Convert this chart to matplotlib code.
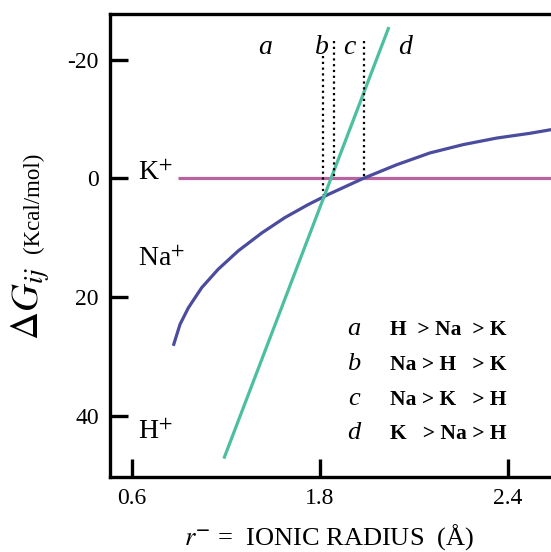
import matplotlib
matplotlib.use("Agg")
import matplotlib.pyplot as plt

plt.rcParams['font.family'] = ['Liberation Serif', 'DejaVu Serif']
plt.rcParams['mathtext.fontset'] = 'stix'

# x positions are on the printed axis, whose ticks are evenly spaced
xtick_pos = [0.6, 1.5, 2.4]
xtick_labels = ['0.6', '1.8', '2.4']
ytick_vals = [-20, 0, 20, 40]
ytick_labels = ['-20', '0', '20', '40']

# K+ reference line
k_x = [0.82, 2.62]
k_y = [0.0, 0.0]

# Na+ curve
na_x = [0.798, 0.830, 0.870, 0.934, 1.013, 1.109, 1.221, 1.332, 1.444, 1.540,
        1.707, 1.867, 2.027, 2.186, 2.346, 2.505, 2.62]
na_y = [28.2, 24.6, 21.8, 18.4, 15.3, 12.2, 9.2, 6.6, 4.4, 2.7,
        0.0, -2.3, -4.3, -5.7, -6.8, -7.6, -8.3]

# H+ straight line
h_x = [1.04, 1.83]
h_y = [47.2, -25.5]

# dotted boundaries between regions
bound_x = [1.514, 1.567, 1.711]
bound_top = [-20.6, -23.1, -23.1]
bound_bot = [2.8, 0.0, 0.0]

region_letters = ['a', 'b', 'c', 'd']
region_x = [1.237, 1.51, 1.639, 1.907]

orders = ['H  > Na  > K', 'Na > H   > K', 'Na > K   > H', 'K   > Na > H']
order_y = [26.3, 32.2, 38.1, 43.9]

ion_labels = ['K$^{+}$', 'Na$^{+}$', 'H$^{+}$']
ion_y = [0.3, 14.8, 43.9]

fig = plt.figure(figsize=(5.51, 5.52), dpi=100)
ax = fig.add_axes([110 / 551, 75 / 552, 441 / 551, 463 / 552])

ax.plot(k_x, k_y, color='#b8629f', lw=2.3, solid_capstyle='butt')
ax.plot(na_x, na_y, color='#4b4c9e', lw=2.3, solid_capstyle='butt')
ax.plot(h_x, h_y, color='#4cbf9e', lw=2.3, solid_capstyle='butt')

for bx, t, b in zip(bound_x, bound_top, bound_bot):
    ax.plot([bx, bx], [t, b], color='black', lw=1.6, ls=(0, (1, 1.6)))

for lt, lx in zip(region_letters, region_x):
    ax.text(lx, -20.9, lt, fontsize=20, style='italic', ha='center', va='baseline')

for lt, oy, txt in zip(region_letters, order_y, orders):
    ax.text(1.663, oy, lt, fontsize=19, style='italic', ha='center', va='baseline')
    ax.text(1.835, oy, txt, fontsize=15.5, fontweight='bold', ha='left', va='baseline')

for lab, iy in zip(ion_labels, ion_y):
    ax.text(0.63, iy, lab, fontsize=20, ha='left', va='baseline')

ax.set_xlim(0.495, 2.606)
ax.set_ylim(50.3, -27.7)
ax.set_xticks(xtick_pos)
ax.set_xticklabels(xtick_labels)
ax.set_yticks(ytick_vals)
ax.set_yticklabels(ytick_labels)
ax.tick_params(direction='in', length=13, width=2.4, labelsize=17, pad=8)

for side in ['left', 'bottom', 'top']:
    ax.spines[side].set_linewidth(2.4)
ax.spines['right'].set_visible(False)

fig.text(31 / 551, 1 - 303 / 552, r'$\Delta G_{ij}$', fontsize=28, rotation=90,
         ha='center', va='center')
fig.text(33 / 551, 1 - 203 / 552, '(Kcal/mol)', fontsize=16.5, rotation=90,
         ha='center', va='center')
fig.text(329 / 551, 1 - 537 / 552, r'$r^{\mathbf{-}}$ =  IONIC RADIUS  (Å)',
         fontsize=19, ha='center', va='center')

fig.savefig('out.png', dpi=100)
